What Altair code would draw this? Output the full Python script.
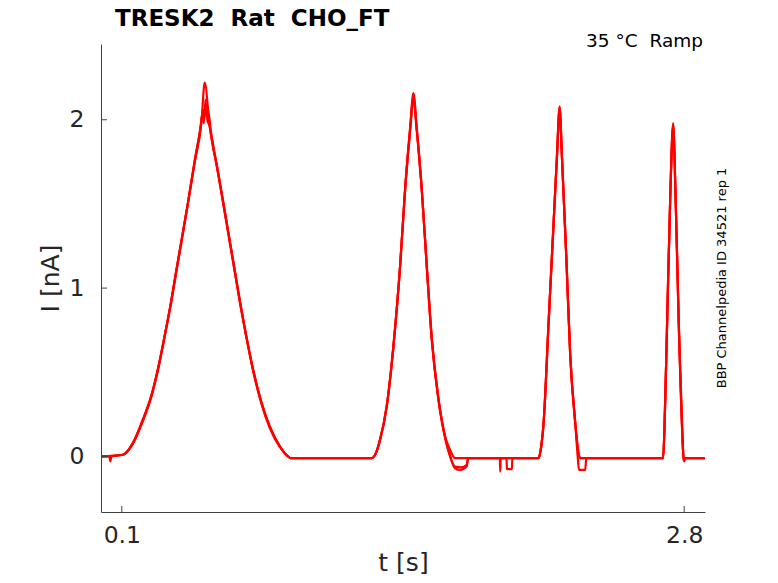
import altair as alt
import pandas as pd

# ---- data (t in s, I in nA), three overlaid sweeps ----
s1_t = [0.0, 0.04, 0.045, 0.05, 0.105, 0.153, 0.201, 0.241, 0.273, 0.305, 0.338, 0.362, 0.386, 0.417, 0.450, 0.482, 0.498,
        0.522, 0.562, 0.591, 0.642, 0.666, 0.698, 0.730, 0.771, 0.810, 0.859, 0.898, 0.910,
        1.300, 1.320, 1.340, 1.372, 1.404, 1.436, 1.460, 1.484, 1.500, 1.516, 1.540, 1.564, 1.588, 1.620, 1.652, 1.676, 1.700,
        2.101, 2.110, 2.125, 2.149, 2.173, 2.189, 2.202, 2.213, 2.234, 2.253, 2.277, 2.293, 2.300,
        2.699, 2.705, 2.718, 2.734, 2.747, 2.758, 2.774, 2.793, 2.797, 2.800, 2.805, 2.900]
s1_i = [0.0, 0.0, -0.03, 0.0, 0.01, 0.079, 0.217, 0.356, 0.515, 0.712, 0.930, 1.105, 1.28, 1.505, 1.75, 1.98, 2.22,
        1.96, 1.69, 1.48, 1.10, 0.930, 0.712, 0.515, 0.317, 0.178, 0.059, 0.0, -0.01,
        -0.01, 0.02, 0.099, 0.297, 0.653, 1.128, 1.584, 1.941, 2.159, 1.941, 1.584, 1.128, 0.693, 0.336, 0.118, 0.039, -0.01,
        -0.01, 0.03, 0.198, 0.792, 1.386, 1.782, 2.079, 1.782, 1.188, 0.594, 0.198, 0.02, -0.01,
        -0.01, 0.15, 0.792, 1.584, 1.980, 1.584, 0.792, 0.079, -0.01, -0.03, -0.01, -0.01]

s2_t = [0.0, 0.105, 0.153, 0.201, 0.241, 0.273, 0.305, 0.338, 0.362, 0.386, 0.417, 0.450, 0.475, 0.488, 0.494,
        0.502, 0.508, 0.515, 0.530, 0.562, 0.591, 0.642, 0.666, 0.698, 0.730, 0.771, 0.810, 0.859, 0.898, 0.910,
        1.300, 1.320, 1.340, 1.372, 1.404, 1.436, 1.460, 1.484, 1.500, 1.516, 1.540, 1.564, 1.588, 1.620, 1.652, 1.676,
        1.700, 1.724, 1.756, 1.762, 1.915, 1.917, 1.919, 1.947, 1.949, 1.973, 1.975,
        2.101, 2.110, 2.125, 2.149, 2.173, 2.189, 2.202, 2.213, 2.234, 2.253, 2.277, 2.290, 2.295, 2.325, 2.330,
        2.699, 2.705, 2.718, 2.734, 2.747, 2.758, 2.774, 2.793, 2.797, 2.900]
s2_i = [0.0, 0.01, 0.08, 0.22, 0.36, 0.52, 0.71, 0.93, 1.11, 1.28, 1.50, 1.75, 1.93, 2.04, 1.98,
        2.12, 2.02, 2.05, 1.90, 1.69, 1.48, 1.11, 0.93, 0.71, 0.52, 0.32, 0.18, 0.06, 0.0, -0.01,
        -0.01, 0.02, 0.10, 0.30, 0.65, 1.13, 1.58, 1.93, 2.12, 1.94, 1.59, 1.14, 0.71, 0.35, 0.11, 0.0,
        -0.07, -0.08, -0.06, -0.01, -0.01, -0.09, -0.01, -0.01, -0.075, -0.075, -0.01,
        -0.01, 0.03, 0.20, 0.79, 1.38, 1.77, 2.06, 1.78, 1.19, 0.60, 0.20, -0.02, -0.08, -0.08, -0.01,
        -0.01, 0.15, 0.79, 1.58, 1.97, 1.58, 0.79, 0.08, -0.01, -0.01]

s3_t = [0.0, 0.105, 0.153, 0.201, 0.241, 0.273, 0.305, 0.338, 0.362, 0.386, 0.417, 0.450, 0.480, 0.490, 0.497,
        0.505, 0.512, 0.520, 0.540, 0.562, 0.591, 0.642, 0.666, 0.698, 0.730, 0.771, 0.810, 0.859, 0.898, 0.910,
        1.300, 1.320, 1.340, 1.372, 1.404, 1.436, 1.460, 1.484, 1.500, 1.516, 1.540, 1.564, 1.588, 1.620, 1.652, 1.672,
        1.700, 1.730, 1.756, 1.764,
        2.101, 2.110, 2.125, 2.149, 2.173, 2.189, 2.202, 2.213, 2.234, 2.253, 2.277, 2.293, 2.300,
        2.699, 2.705, 2.718, 2.734, 2.747, 2.758, 2.774, 2.793, 2.797, 2.803, 2.900]
s3_i = [0.0, 0.01, 0.075, 0.21, 0.35, 0.51, 0.71, 0.92, 1.10, 1.27, 1.50, 1.76, 1.97, 2.06, 2.02,
        2.08, 1.99, 1.97, 1.84, 1.68, 1.47, 1.10, 0.92, 0.71, 0.51, 0.31, 0.17, 0.055, 0.0, -0.01,
        -0.01, 0.02, 0.10, 0.30, 0.66, 1.13, 1.59, 1.95, 2.14, 1.95, 1.59, 1.13, 0.70, 0.34, 0.12, 0.02,
        -0.06, -0.065, -0.05, -0.01,
        -0.01, 0.03, 0.20, 0.80, 1.39, 1.78, 2.07, 1.79, 1.19, 0.60, 0.20, 0.02, -0.01,
        -0.01, 0.15, 0.79, 1.58, 1.96, 1.58, 0.79, 0.08, -0.02, -0.01, -0.01]

x_ticks = [0.1, 2.8]
y_ticks = [0, 1, 2]
title_text = "TRESK2\u00a0\u00a0Rat\u00a0\u00a0CHO_FT"
corner_text = "35 °C\u00a0\u00a0Ramp"
side_text = "BBP Channelpedia ID 34521 rep 1"

rows = []
for name, ts, vs in [("1", s1_t, s1_i), ("2", s2_t, s2_i), ("3", s3_t, s3_i)]:
    for t, v in zip(ts, vs):
        rows.append({"sweep": name, "t": t, "I": v})
df = pd.DataFrame(rows)

W, H = 604, 468
FONT = "DejaVu Sans"
AX = "#262626"

xscale = alt.Scale(domain=[0, 2.9], nice=False, zero=False)
yscale = alt.Scale(domain=[-0.33, 2.45], nice=False, zero=False)

x_axis = alt.Axis(values=x_ticks, format=".1f", title="t [s]", tickSize=0,
                  labelPadding=11, labelFontSize=23.5, labelColor=AX,
                  titleFontSize=25, titleFontWeight="normal", titleColor=AX,
                  titleY=58, titleBaseline="alphabetic",
                  domainColor="#404040", grid=False, labelFlush=False)
y_axis = alt.Axis(values=y_ticks, format="d", title="I [nA]", tickSize=0,
                  labelPadding=17, labelFontSize=23.5, labelColor=AX,
                  titleFontSize=25, titleFontWeight="normal", titleColor=AX,
                  titleAngle=270, titleX=-43, titleBaseline="alphabetic",
                  domainColor="#404040", grid=False)

lines = alt.Chart(df).mark_line(color="#ff0000", strokeWidth=2.2, interpolate="monotone").encode(
    x=alt.X("t:Q", scale=xscale, axis=x_axis),
    y=alt.Y("I:Q", scale=yscale, axis=y_axis),
    detail="sweep:N",
)

xt = alt.Chart(pd.DataFrame({"t": x_ticks})).mark_rule(color="#404040", strokeWidth=1).encode(
    x=alt.X("t:Q", scale=xscale, axis=x_axis), y=alt.value(H), y2=alt.value(H - 6))
yt = alt.Chart(pd.DataFrame({"I": y_ticks})).mark_rule(color="#404040", strokeWidth=1).encode(
    y=alt.Y("I:Q", scale=yscale, axis=y_axis), x=alt.value(0), x2=alt.value(6))

title_mark = alt.Chart(pd.DataFrame({"label": [title_text]})).mark_text(
    align="left", baseline="alphabetic", fontSize=23, fontWeight="bold", font=FONT, color="black").encode(
    text="label:N", x=alt.value(14), y=alt.value(-18))

corner = alt.Chart(pd.DataFrame({"label": [corner_text]})).mark_text(
    align="right", baseline="alphabetic", fontSize=18.5, font=FONT, color="black").encode(
    text="label:N", x=alt.value(602), y=alt.value(2.7))

side = alt.Chart(pd.DataFrame({"label": [side_text]})).mark_text(
    align="center", baseline="alphabetic", fontSize=13, font=FONT, color="black", angle=270).encode(
    text="label:N", x=alt.value(625), y=alt.value(H / 2))

chart = alt.layer(lines, xt, yt, title_mark, corner, side).properties(
    width=W, height=H,
    autosize=alt.AutoSizeParams(type="none"),
    padding={"left": 93, "top": 36, "right": 65, "bottom": 63},
).configure(font=FONT).configure_view(stroke=None)

chart.save("out.html", embed_options={"renderer": "svg", "actions": False})
